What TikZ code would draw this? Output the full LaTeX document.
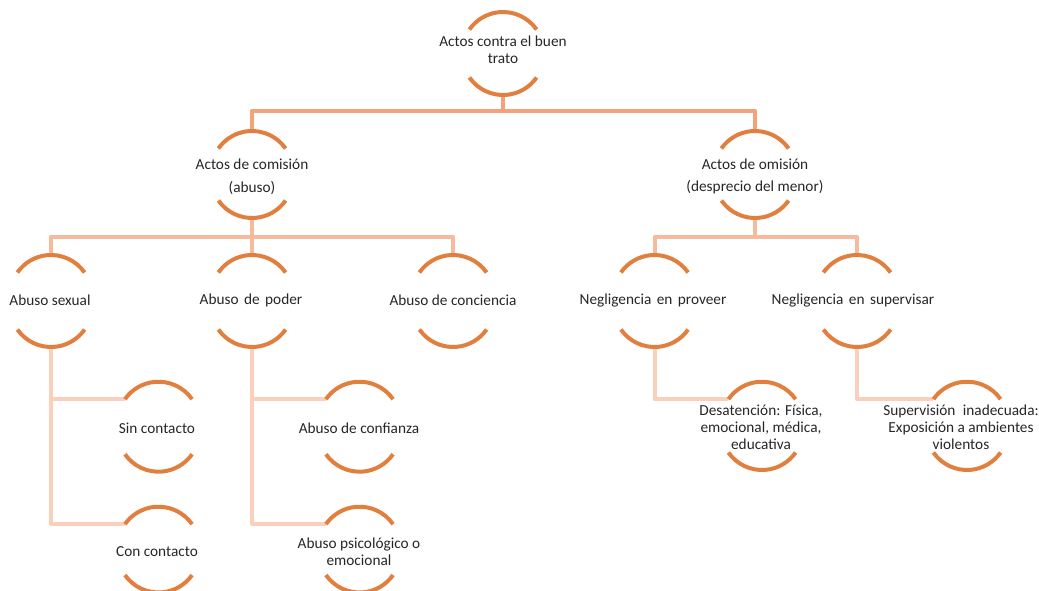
\documentclass[tikz,border=0pt]{standalone}
\usepackage{fontspec}
\setmainfont{Carlito}
\definecolor{arcc}{RGB}{225,127,62}
\definecolor{lnA}{RGB}{244,162,122}
\definecolor{lnB}{RGB}{248,186,156}
\definecolor{lnC}{RGB}{250,207,188}
\definecolor{txt}{RGB}{38,38,38}
\tikzset{
  lbl/.style={align=center, text=txt, font=\fontsize{15.3}{17}\selectfont, inner sep=0pt},
  arcst/.style={draw=arcc, line width=4pt},
  conA/.style={draw=lnA, line width=4pt, line join=round},
  conB/.style={draw=lnB, line width=4pt, line join=round},
  conC/.style={draw=lnC, line width=4pt, line join=round},
}
% name, x shift, top arc y shift, bottom arc y shift
\newcommand\mkarcs[4]{%
  \coordinate (#1-tc) at ([shift={(#2,#3)}]#1.center);
  \coordinate (#1-bc) at ([shift={(#2,#4)}]#1.center);
  \coordinate (#1-t) at ([shift={(0,41)}]#1-tc);
  \coordinate (#1-b) at ([shift={(0,-41)}]#1-bc);
  \coordinate (#1-l) at ([shift={(145:41)}]#1-tc);
}
\begin{document}
\begin{tikzpicture}[x=1pt,y=1pt]
\useasboundingbox (0,0) rectangle (1039,-590);
\clip (0,0) rectangle (1039,-590);
% nodes
\node[lbl] (top) at (503,-50) {Actos contra el buen\\trato};
\node[lbl] (com) at (252,-176.5) {Actos de comisión\\[6pt](abuso)};
\node[lbl] (omi) at (755,-176.5) {Actos de omisión\\[5pt](desprecio del menor)};
\node[lbl] (sex) at (50,-300) {Abuso sexual};
\node[lbl] (pod) at (251,-300) {Abuso\hspace{2pt} de\hspace{2pt} poder};
\node[lbl] (conc) at (453,-300) {Abuso de conciencia};
\node[lbl] (prov) at (653,-300) {Negligencia\hspace{2pt} en\hspace{2pt} proveer};
\node[lbl] (supv) at (853,-300) {Negligencia\hspace{2pt} en\hspace{2pt} supervisar};
\node[lbl] (sin) at (157,-428) {Sin contacto};
\node[lbl] (conp) at (157,-551.5) {Con contacto};
\node[lbl] (conf) at (359,-428) {Abuso de confianza};
\node[lbl] (psi) at (359,-551.5) {Abuso psicológico o\\emocional};
\node[lbl] (des) at (761,-427) {Desatención: Física,\\emocional, médica,\\educativa};
\node[lbl] (supn) at (961,-427) {Supervisión\hspace{4pt} inadecuada:\\Exposición a ambientes\\violentos};
% arc geometry
\mkarcs{top}{0}{-3}{-4}
\mkarcs{com}{0}{4.5}{-0.5}
\mkarcs{omi}{0}{4.5}{-0.5}
\mkarcs{sex}{1}{4}{-6}
\mkarcs{pod}{1}{4}{-6}
\mkarcs{conc}{0}{4}{-6}
\mkarcs{prov}{1.5}{4}{-6}
\mkarcs{supv}{4}{4}{-6}
\mkarcs{sin}{1.5}{5.3}{-2.7}
\mkarcs{conp}{1.5}{3.8}{0}
\mkarcs{conf}{0.5}{5.3}{-2.7}
\mkarcs{psi}{0.5}{3.8}{0}
\mkarcs{des}{1}{4.3}{-2}
\mkarcs{supn}{6}{4.3}{-2}
% connectors
\draw[conA] (top-b) -- ++(0,-16) -| (com-t);
\draw[conA] (top-b) -- ++(0,-16) -| (omi-t);
\draw[conB] (com-b) -- ++(0,-19) -| (sex-t);
\draw[conB] (com-b) -- ++(0,-19) -| (conc-t);
\draw[conB] (com-b) -- (pod-t);
\draw[conB] (omi-b) -- ++(0,-19) -| (prov-t);
\draw[conB] (omi-b) -- ++(0,-19) -| (supv-t);
\draw[conC] (sex-b) |- (sin-l);
\draw[conC] (sex-b) |- (conp-l);
\draw[conC] (pod-b) |- (conf-l);
\draw[conC] (pod-b) |- (psi-l);
\draw[conC] (prov-b) |- (des-l);
\draw[conC] (supv-b) |- (supn-l);
% arcs
\foreach \n in {top,com,omi,sex,pod,conc,prov,supv,sin,conp,conf,psi,des,supn}{
  \draw[arcst] ([shift={(35:41)}]\n-tc) arc (35:145:41);
  \draw[arcst] ([shift={(215:41)}]\n-bc) arc (215:325:41);
}
\end{tikzpicture}
\end{document}
